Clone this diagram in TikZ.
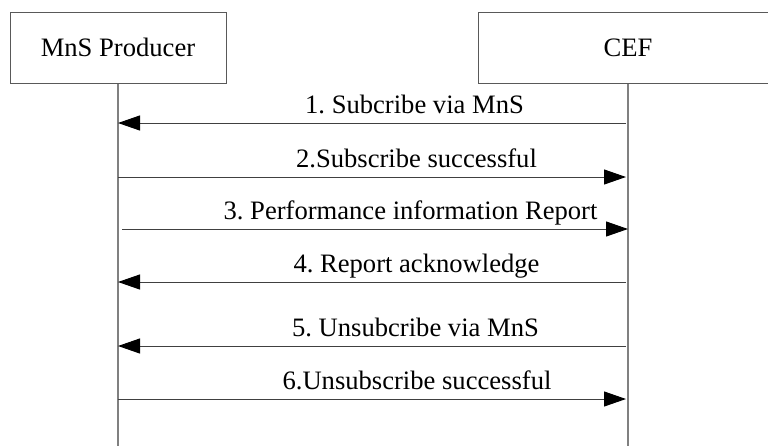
\documentclass[tikz,border=0pt]{standalone}
\usepackage{fontspec}
\setmainfont{Liberation Serif}
\usetikzlibrary{arrows.meta}
\frenchspacing
\tikzset{
  actorbox/.style={draw=black!65, line width=1pt, minimum width=#1, minimum height=71pt, inner sep=0pt, font=\fontsize{26.6}{30}\selectfont},
  lifeline/.style={draw=black!50, line width=1.3pt},
  msg/.style={draw=black!75, line width=1pt, -{Triangle[length=22pt,width=15pt,color=black,fill=black]}},
  msglabel/.style={anchor=base, inner sep=0pt, font=\fontsize{26.6}{30}\selectfont}
}
\begin{document}
\begin{tikzpicture}[x=1pt,y=-1pt]
\useasboundingbox (0,0) rectangle (768,445);
\clip (0,0) rectangle (768,445);
\fill[white] (0,0) rectangle (768,445);
% actors
\node[actorbox=216pt] (prod) at (118,47.5) {MnS Producer};
\node[actorbox=300pt] (cef) at (628,47.5) {CEF};
% lifelines
\coordinate (prodend) at (118,446);
\coordinate (cefend) at (628,446);
\draw[lifeline] (prod.south) -- (prodend);
\draw[lifeline] (cef.south) -- (cefend);
% message end points
\coordinate (l1) at (118,123); \coordinate (r1) at (626,123);
\coordinate (l2) at (118,177); \coordinate (r2) at (626,177);
\coordinate (l3) at (122,229); \coordinate (r3) at (628,229);
\coordinate (l4) at (118,282); \coordinate (r4) at (626,282);
\coordinate (l5) at (118,346); \coordinate (r5) at (626,346);
\coordinate (l6) at (118,399); \coordinate (r6) at (626,399);
% messages
\draw[msg] (r1) -- (l1);
\draw[msg] (l2) -- (r2);
\draw[msg] (l3) -- (r3);
\draw[msg] (r4) -- (l4);
\draw[msg] (r5) -- (l5);
\draw[msg] (l6) -- (r6);
% labels
\node[msglabel] (t1) at (414.5,113) {1. Subcribe via MnS};
\node[msglabel] (t2) at (416.5,167) {2.Subscribe successful};
\node[msglabel] (t3) at (410.5,219) {3. Performance information Report};
\node[msglabel] (t4) at (416.5,272) {4. Report acknowledge};
\node[msglabel] (t5) at (415.5,336) {5. Unsubcribe via MnS};
\node[msglabel] (t6) at (417,389) {6.Unsubscribe successful};
\end{tikzpicture}
\end{document}
